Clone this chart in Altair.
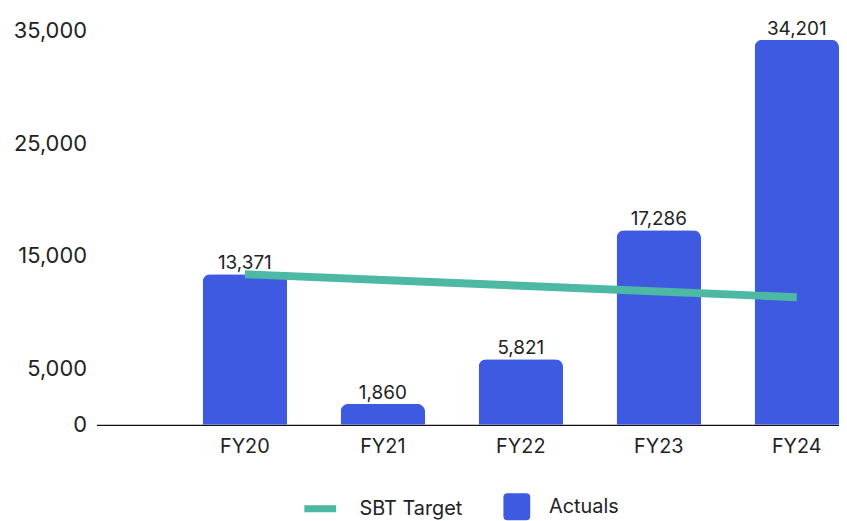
import altair as alt
import pandas as pd

years = ["FY20", "FY21", "FY22", "FY23", "FY24"]
actuals = [13371, 1860, 5821, 17286, 34201]
target = [13371, 12861, 12351, 11840, 11330]
y_ticks = [0, 5000, 15000, 25000, 35000]

bars_df = pd.DataFrame({"year": years, "value": actuals, "series": ["Actuals"] * 5})
line_df = pd.DataFrame({"year": years, "value": target, "series": ["SBT Target"] * 5})

FONT = "Inter"
TXT = "#222222"
BLUE = "#3e5ae0"
TEAL = "#4db8a3"

x_scale = alt.Scale(domain=years, paddingInner=0.388, paddingOuter=0.385, align=1)
x_axis = alt.Axis(
    labelAngle=0, ticks=False, domainColor="#111111", domainWidth=1.2,
    labelFontSize=20, labelColor=TXT, labelFont=FONT, labelPadding=12, grid=False,
)
x_enc = alt.X("year:N", sort=years, title=None, scale=x_scale, axis=x_axis)
y_scale = alt.Scale(domain=[0, 35000], nice=False)
y_axis = alt.Axis(
    values=y_ticks, format=",d", domain=False, ticks=False, grid=False,
    labelFontSize=22, labelColor=TXT, labelFont=FONT, labelPadding=10,
)
y_enc = alt.Y("value:Q", title=None, scale=y_scale, axis=y_axis)

rounded_sq = "M -0.7 -1 H 0.7 Q 1 -1 1 -0.7 V 0.7 Q 1 1 0.7 1 H -0.7 Q -1 1 -1 0.7 V -0.7 Q -1 -1 -0.7 -1 Z"

bars = alt.Chart(bars_df).mark_bar(cornerRadiusTopLeft=8, cornerRadiusTopRight=8).encode(
    x=x_enc,
    y=y_enc,
    fill=alt.Fill(
        "series:N",
        scale=alt.Scale(domain=["Actuals"], range=[BLUE]),
        legend=alt.Legend(
            title=None, orient="none", legendX=410, legendY=466,
            symbolType=rounded_sq, symbolSize=729, symbolStrokeWidth=0,
            labelFontSize=20, labelFont=FONT, labelColor=TXT, labelOffset=19,
        ),
    ),
)

line = alt.Chart(line_df).mark_line(strokeWidth=8, strokeCap="butt").encode(
    x=alt.X("year:N", sort=years, title=None, scale=x_scale, axis=x_axis),
    y=alt.Y("value:Q", title=None, scale=y_scale, axis=y_axis),
    stroke=alt.Stroke(
        "series:N",
        scale=alt.Scale(domain=["SBT Target"], range=[TEAL]),
        legend=alt.Legend(
            title=None, orient="none", legendX=214, legendY=470,
            symbolType="M -2 0 H 2", symbolSize=256, symbolStrokeWidth=7,
            labelFontSize=20, labelFont=FONT, labelColor=TXT, labelOffset=28,
        ),
    ),
)

labels = alt.Chart(bars_df).mark_text(
    baseline="alphabetic", dy=-5, fontSize=19, font=FONT, color=TXT
).encode(
    x=alt.X("year:N", sort=years, title=None, scale=x_scale, axis=x_axis),
    y=alt.Y("value:Q", title=None, scale=y_scale, axis=y_axis),
    text=alt.Text("value:Q", format=","),
)

chart = (
    alt.layer(bars, line, labels)
    .resolve_scale(fill="independent", stroke="independent")
    .properties(
        width=748,
        height=397,
        background="white",
        autosize=alt.AutoSizeParams(type="none"),
        padding={"left": 89, "top": 21, "right": 0, "bottom": 95},
    )
    .configure_view(strokeOpacity=0, strokeWidth=0)
    .configure_axis(grid=False)
)

chart.save("out.html", embed_options={"renderer": "svg", "actions": False})
